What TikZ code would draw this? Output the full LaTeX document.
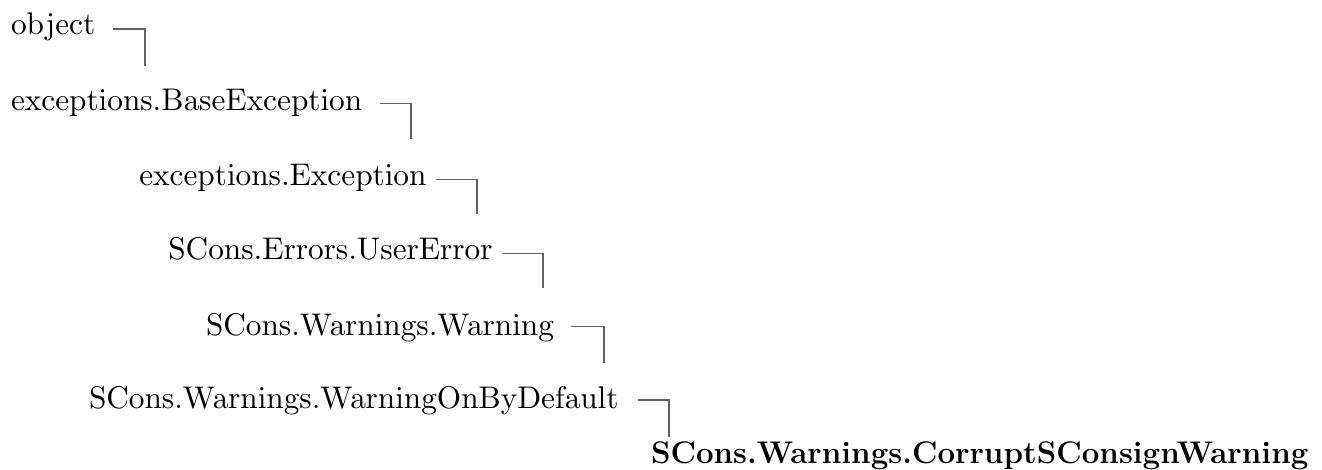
\documentclass[tikz,border=0pt]{standalone}
\font\refrm=cmr10 at 31.3pt
\begin{document}
\begin{tikzpicture}[x=1pt,y=-1pt,
  cls/.style={anchor=base west,inner sep=0pt,outer sep=0pt,font=\refrm},
  leaf/.style={anchor=base west,inner sep=0pt,outer sep=0pt,font=\fontsize{31.3}{38}\selectfont\bfseries},
  link/.style={draw=black!62,line width=1.5pt}]
\useasboundingbox (0,0) rectangle (1322,469);
\node[cls] (obj) at (11,34.5) {object};
\node[cls] (base) at (11,110) {exceptions.BaseException};
\node[cls] (exc) at (139.3,185) {exceptions.Exception};
\node[cls] (user) at (168.3,259) {SCons.Errors.UserError};
\node[cls] (warn) at (206,335) {SCons.Warnings.Warning};
\node[cls] (def) at (89,408.3) {SCons.Warnings.WarningOnByDefault};
\node[leaf] (cor) at (651,463.3) {SCons.Warnings.CorruptSConsignWarning};
\draw[link] ([shift={(17.7,-5.5)}]obj.base east) -- ++(32,0) -- ++(0,36.7);
\draw[link] ([shift={(17.3,-6.7)}]base.base east) -- ++(31,0) -- ++(0,35.7);
\draw[link] ([shift={(9.3,-5.7)}]exc.base east) -- ++(40.7,0) -- ++(0,34.7);
\draw[link] ([shift={(10.3,-5.7)}]user.base east) -- ++(39.7,0) -- ++(0,35);
\draw[link] ([shift={(17,-8.3)}]warn.base east) -- ++(32.7,0) -- ++(0,36);
\draw[link] ([shift={(19,-8.3)}]def.base east) -- ++(31,0) -- ++(0,36.7);
\end{tikzpicture}
\end{document}
